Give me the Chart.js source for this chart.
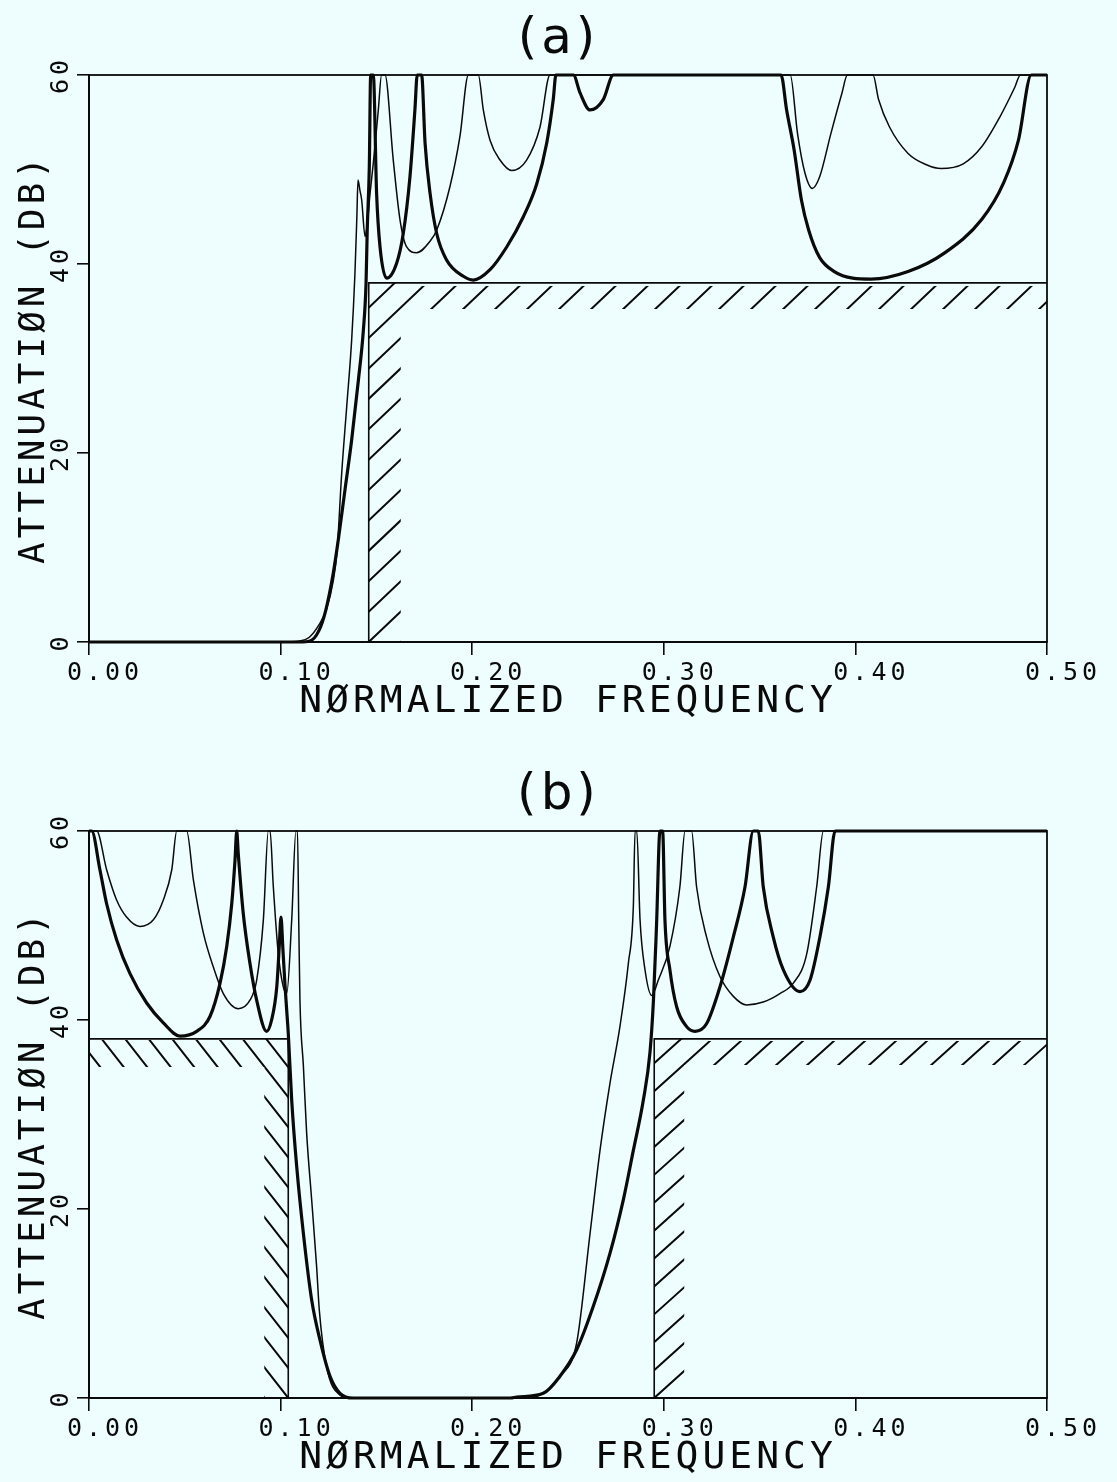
<!DOCTYPE html>
<html>
<head>
<meta charset="utf-8">
<script src="https://cdn.jsdelivr.net/npm/chart.js@4.4.0/dist/chart.umd.min.js"></script>
<style>
  html, body { margin: 0; padding: 0; background: #eefefe; }
  .panel { position: absolute; left: 0; width: 1117px; height: 726px; }
  #panelA { top: 0; }
  #panelB { top: 756px; }
</style>
</head>
<body>
<div class="panel" id="panelA"><canvas id="chartA"></canvas></div>
<div class="panel" id="panelB"><canvas id="chartB"></canvas></div>
<script>
// axis ticks
const xTicks = [0, 0.1, 0.2, 0.3, 0.4, 0.5]
const xTickLabels = ['0.00', '0.10', '0.20', '0.30', '0.40', '0.50']
const yTicks = [0, 20, 40, 60]
const yTickLabels = ['0', '20', '40', '60']

// (a) thin response
const freqA1 = [0, 0.100, 0.110, 0.115, 0.120, 0.124, 0.1275, 0.1295, 0.1319, 0.1345,
	0.1371, 0.1388, 0.1398, 0.1404, 0.1414, 0.1423, 0.1441, 0.1452, 0.1467, 0.1484,
	0.151, 0.1527, 0.1545, 0.1588, 0.1623, 0.1658, 0.171, 0.178, 0.1815, 0.1884,
	0.1936, 0.198, 0.2032, 0.2058, 0.2093, 0.2145, 0.2206, 0.2284, 0.2354, 0.2406,
	0.366, 0.3698, 0.3737, 0.3775, 0.3813, 0.3872, 0.393, 0.3958, 0.4092, 0.4121,
	0.4178, 0.4275, 0.4371, 0.4447, 0.4563, 0.4659, 0.4755, 0.4832, 0.4861, 0.5]
const attA1 = [0, 0, 0.1, 0.5, 1.8, 3.5, 6.5, 9.7, 17.9, 24.9,
	32.0, 39.0, 45.0, 48.9, 47.8, 46.8, 42.9, 44.2, 47.5, 50.7,
	56.3, 60, 60, 51.0, 44.7, 41.8, 41.2, 42.4, 43.6, 48.2,
	53.5, 60, 60, 56.3, 53.1, 51.0, 49.9, 51.0, 54.5, 60,
	60, 53.8, 49.6, 48.0, 49.2, 53.8, 58.1, 60, 60, 57.4,
	54.5, 51.7, 50.5, 50.1, 50.6, 52.4, 55.6, 58.7, 60, 60]

// (a) thick response
const freqA2 = [0, 0.100, 0.110, 0.1153, 0.1200, 0.1235, 0.1275, 0.1301, 0.1336, 0.1371,
	0.1406, 0.1432, 0.1446, 0.1452, 0.1463, 0.147, 0.1484, 0.1501, 0.1519, 0.1554,
	0.1606, 0.164, 0.1675, 0.1701, 0.1713, 0.1736, 0.1754, 0.178, 0.1815, 0.1867,
	0.1954, 0.2006, 0.2093, 0.218, 0.2267, 0.2337, 0.2389, 0.2423, 0.2437, 0.2528,
	0.2563, 0.2615, 0.2684, 0.2737, 0.3612, 0.3641, 0.368, 0.3718, 0.3756, 0.3813,
	0.389, 0.3986, 0.4082, 0.4275, 0.4468, 0.4659, 0.4774, 0.4851, 0.4918, 0.5]
const attA2 = [0, 0, 0, 0.1, 1.2, 3.3, 7.3, 10.8, 16.1, 21.4,
	27.7, 33.0, 38.0, 43.5, 50.3, 60, 60, 47.5, 41.8, 38.5,
	40.1, 43.2, 49.2, 56.3, 60, 60, 52.8, 47.5, 43.2, 40.4,
	38.7, 38.3, 39.4, 41.8, 45.0, 48.5, 52.8, 57.4, 60, 60,
	58.1, 56.3, 57.4, 60, 60, 56.3, 52.1, 46.8, 43.6, 40.7,
	39.2, 38.5, 38.4, 39.2, 41.2, 44.7, 48.6, 53.1, 60, 60]

// (b) thin response
const freqB1 = [0, 0.004, 0.0092, 0.0144, 0.0196, 0.0266, 0.0336, 0.0388, 0.0432, 0.0458,
	0.051, 0.0545, 0.0597, 0.0649, 0.0701, 0.0779, 0.084, 0.0875, 0.091, 0.0936,
	0.0945, 0.0962, 0.0988, 0.1014, 0.1032, 0.1058, 0.108, 0.1088, 0.1095, 0.1101,
	0.1119, 0.1136, 0.1162, 0.1188, 0.1202, 0.124, 0.131, 0.136, 0.225, 0.2371,
	0.2458, 0.2545, 0.2615, 0.2667, 0.2719, 0.2771, 0.2815, 0.2841, 0.285, 0.2859,
	0.2876, 0.2902, 0.2937, 0.2971, 0.3032, 0.3084, 0.3111, 0.3145, 0.3171, 0.3223,
	0.3293, 0.3363, 0.3432, 0.3519, 0.3606, 0.3676, 0.3746, 0.3798, 0.3833, 0.5]
const attB1 = [60, 60, 55.9, 52.7, 50.9, 49.9, 50.6, 52.7, 55.9, 60,
	60, 54.8, 49.2, 45.6, 42.8, 41.2, 42.1, 44.2, 50.6, 60,
	60, 54.1, 47.0, 43.5, 42.8, 50.6, 60, 60, 50.0, 42.1,
	35.1, 28.0, 21.0, 13.9, 9.3, 3.3, 0.3, 0, 0, 0.5,
	2.3, 5.8, 17.4, 26.2, 33.3, 39.3, 46.0, 52.0, 60, 60,
	50.6, 45.3, 42.6, 44.2, 47.8, 54.1, 60, 60, 54.1, 48.8,
	44.6, 42.5, 41.6, 41.9, 42.8, 43.9, 47.0, 54.1, 60, 60]

// (b) thick response
const freqB2 = [0, 0.0014, 0.0057, 0.0092, 0.0144, 0.0214, 0.0301, 0.0388, 0.0475, 0.0562,
	0.0632, 0.0684, 0.0719, 0.0745, 0.0762, 0.0771, 0.0779, 0.0805, 0.084, 0.0875,
	0.0927, 0.0953, 0.098, 0.0993, 0.1002, 0.1012, 0.1022, 0.1032, 0.104, 0.1058,
	0.1084, 0.1119, 0.1162, 0.1206, 0.1258, 0.131, 0.138, 0.220, 0.2232, 0.2371,
	0.2458, 0.2545, 0.2632, 0.2719, 0.2789, 0.2841, 0.2893, 0.2928, 0.2946, 0.2962,
	0.298, 0.2994, 0.3006, 0.3032, 0.3067, 0.3119, 0.3163, 0.3223, 0.3293, 0.3363,
	0.3424, 0.3467, 0.3493, 0.3519, 0.3571, 0.3624, 0.3711, 0.3763, 0.3815, 0.3859,
	0.3894, 0.5]
const attB2 = [60, 60, 55.9, 52.3, 48.5, 44.9, 41.8, 39.7, 38.3, 38.8,
	40.4, 43.9, 47.8, 52.3, 56.9, 60, 57.6, 51.3, 46.0, 42.1,
	38.8, 40.0, 43.5, 47.8, 50.9, 47.5, 44.0, 41.0, 38.6, 31.5,
	24.5, 17.4, 10.4, 6.1, 2.3, 0.5, 0, 0, 0.1, 0.5,
	2.3, 5.1, 9.7, 15.3, 21.0, 26.2, 31.5, 36.6, 42.1, 50.0,
	60, 60, 50.6, 45.3, 41.4, 39.3, 38.8, 39.6, 43.5, 48.8,
	54.1, 60, 60, 54.1, 48.8, 45.3, 43.0, 44.2, 48.8, 54.1,
	60, 60]

// specification masks
const specLevel = 38
const specA_x = [0.146, 0.146, 0.5]
const specA_y = [0, specLevel, specLevel]
const specB1_x = [0, 0.104, 0.104]
const specB1_y = [specLevel, specLevel, 0]
const specB2_x = [0.295, 0.295, 0.5]
const specB2_y = [0, specLevel, specLevel]

const ink = '#0a0a0a'
const plotFont = 'DejaVu Sans Mono'

const curve = (fx, fy, w) => ({
	data: fx.map((f, i) => ({ x: f, y: fy[i] })),
	borderColor: ink,
	borderWidth: w,
	pointRadius: 0,
	cubicInterpolationMode: 'monotone',
	clip: 4,
})

const mask = (fx, fy) => ({
	data: fx.map((f, i) => ({ x: f, y: fy[i] })),
	borderColor: ink,
	borderWidth: 1.6,
	pointRadius: 0,
	tension: 0,
	clip: 4,
})

// plotter-like spaced lettering
const spacingPlugin = {
	id: 'spacing',
	beforeDraw(chart) { chart.ctx.letterSpacing = '4px' },
	afterDraw(chart) { chart.ctx.letterSpacing = '0px' },
}

// frame + hatching along the masks
const hatchPlugin = {
	id: 'hatch',
	afterDatasetsDraw(chart, args, opts) {
		const { ctx, chartArea: a, scales } = chart
		const sx = scales.x, sy = scales.y
		ctx.save()
		ctx.strokeStyle = ink
		ctx.lineWidth = 1.8
		ctx.strokeRect(a.left, a.top, a.right - a.left, a.bottom - a.top)
		for (const g of opts.groups) {
			const e = sx.getPixelForValue(g.edge)
			const end = sx.getPixelForValue(g.to)
			const lv = sy.getPixelForValue(g.level)
			const base = sy.getPixelForValue(0)
			ctx.save()
			ctx.beginPath()
			ctx.rect(Math.min(e, end), lv + g.gap, Math.abs(end - e), g.band)
			ctx.rect(g.side > 0 ? e : e - g.vband, lv, g.vband, base - lv)
			ctx.clip()
			ctx.beginPath()
			ctx.lineWidth = 2
			const L = 1000
			for (let k = -60; k <= 60; k++) {
				const x0 = e + k * g.step
				ctx.moveTo(x0 - g.dir * L, base + g.slope * L)
				ctx.lineTo(x0 + g.dir * L, base - g.slope * L)
			}
			ctx.stroke()
			ctx.restore()
		}
		ctx.restore()
	},
}

function makeChart(id, title, datasets, groups) {
	return new Chart(document.getElementById(id), {
		type: 'line',
		data: { datasets: datasets },
		options: {
			responsive: true,
			maintainAspectRatio: false,
			animation: false,
			layout: { padding: 0 },
			plugins: {
				legend: { display: false },
				tooltip: { enabled: false },
				title: {
					display: true,
					text: title,
					color: ink,
					font: { family: 'DejaVu Sans', size: 50, weight: 'normal', lineHeight: 1.2 },
					padding: { top: 10, bottom: 5 },
				},
				hatch: { groups: groups },
			},
			scales: {
				x: {
					type: 'linear',
					min: 0,
					max: 0.5,
					afterBuildTicks: (s) => { s.ticks = xTicks.map((v) => ({ value: v })) },
					afterFit: (s) => { s.height = 84 },
					ticks: {
						callback: (v, i) => xTickLabels[i],
						color: ink,
						font: { family: plotFont, size: 25 },
						padding: 3,
						labelOffset: 16,
						maxRotation: 0,
					},
					grid: { drawOnChartArea: false, tickLength: 13, color: ink, lineWidth: 1.6 },
					border: { color: ink, width: 2 },
					title: {
						display: true,
						text: 'NØRMALIZED FREQUENCY',
						color: ink,
						font: { family: plotFont, size: 38, lineHeight: 1.2 },
						padding: { top: 0, bottom: 1 },
					},
				},
				y: {
					min: 0,
					max: 60,
					afterBuildTicks: (s) => { s.ticks = yTicks.map((v) => ({ value: v })) },
					afterFit: (s) => { s.width = 89 },
					ticks: {
						callback: (v, i) => yTickLabels[i],
						color: ink,
						font: { family: plotFont, size: 25 },
						minRotation: 90,
						maxRotation: 90,
						crossAlign: 'center',
						padding: 0,
					},
					grid: { drawOnChartArea: false, tickLength: 12, color: ink, lineWidth: 1.6 },
					border: { color: ink, width: 2 },
					title: {
						display: true,
						text: 'ATTENUATIØN (DB)',
						color: ink,
						font: { family: plotFont, size: 36, lineHeight: 1.2 },
						padding: { top: 13, bottom: 0 },
					},
				},
				// empty right margin, keeps the panel title centred on the page
				yRight: {
					position: 'right',
					min: 0,
					max: 60,
					ticks: { display: false },
					grid: { display: false },
					border: { display: false },
					afterFit: (s) => { s.width = 70 },
				},
			},
		},
		plugins: [spacingPlugin, hatchPlugin],
	})
}

makeChart('chartA', '(a)', [
	curve(freqA1, attA1, 1.5),
	curve(freqA2, attA2, 3.2),
	mask(specA_x, specA_y),
], [
	{ edge: specA_x[0], to: specA_x[2], level: specLevel, side: 1, dir: 1, slope: 0.95, step: 32, gap: 3, band: 23, vband: 32 },
])

makeChart('chartB', '(b)', [
	curve(freqB1, attB1, 1.5),
	curve(freqB2, attB2, 3.2),
	mask(specB1_x, specB1_y),
	mask(specB2_x, specB2_y),
], [
	{ edge: specB1_x[1], to: specB1_x[0], level: specLevel, side: -1, dir: -1, slope: 1.28, step: 23.5, gap: 1, band: 27, vband: 24 },
	{ edge: specB2_x[0], to: specB2_x[2], level: specLevel, side: 1, dir: 1, slope: 0.9, step: 31, gap: 2, band: 24, vband: 30 },
])
</script>
</body>
</html>
